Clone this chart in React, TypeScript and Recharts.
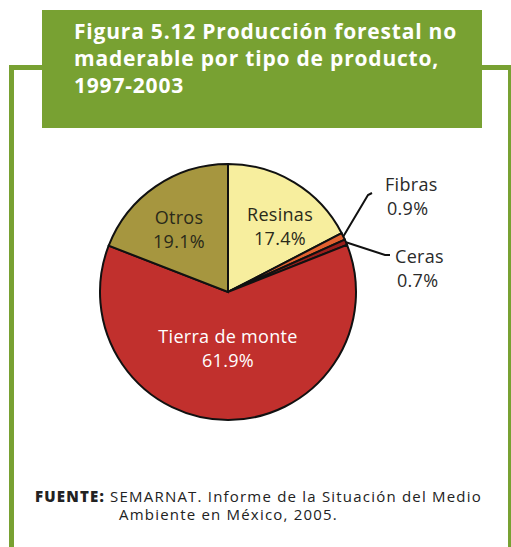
import React from 'react';
import { PieChart, Pie, Cell } from 'recharts';

const categories = ['Resinas', 'Fibras', 'Ceras', 'Tierra de monte', 'Otros'];
const shares = [17.4, 0.9, 0.7, 61.9, 19.1];
const shareLabels = ['17.4%', '0.9%', '0.7%', '61.9%', '19.1%'];
const titleLines = ['Figura 5.12 Producción forestal no', 'maderable por tipo de producto,', '1997-2003'];

const SLICE_COLORS = ['#f7ee9e', '#e2612f', '#9b1f1c', '#c1302d', '#a6963f'];
const GREEN = '#78a132';
const FONT = '"Open Sans", Lato, sans-serif';

const data = categories.map((name, i) => ({ name, value: shares[i], label: shareLabels[i] }));

// inside labels: offset of the label block from the pie centre
const INSIDE: Record<string, { dx: number; dy: number; color: string }> = {
  Resinas: { dx: 52, dy: -66, color: '#2a2a1a' },
  Otros: { dx: -49, dy: -63, color: '#2a2a1a' },
  'Tierra de monte': { dx: 0, dy: 56, color: '#ffffff' },
};
// outside labels: leader line elbow/end and text anchor, relative to centre
const OUTSIDE: Record<string, { elbow: [number, number]; end: [number, number]; text: [number, number] }> = {
  Fibras: { elbow: [140, -97], end: [144, -99], text: [157, -101] },
  Ceras: { elbow: [157, -37], end: [162, -37], text: [167, -29] },
};

const RAD = Math.PI / 180;

function SliceLabel(props: any) {
  const { cx, cy, midAngle, outerRadius, payload } = props;
  const name = payload.name as string;
  const pct = payload.label as string;
  const inside = INSIDE[name];
  if (inside) {
    const x = cx + inside.dx;
    const y = cy + inside.dy;
    return (
      <text x={x} y={y} textAnchor="middle" fill={inside.color} fontFamily={FONT} fontSize={18} letterSpacing={0.3}>
        <tspan x={x} dy={-5}>{name}</tspan>
        <tspan x={x} dy={24}>{pct}</tspan>
      </text>
    );
  }
  const out = OUTSIDE[name];
  if (!out) return null;
  const sx = cx + outerRadius * Math.cos(-midAngle * RAD);
  const sy = cy + outerRadius * Math.sin(-midAngle * RAD);
  const tx = cx + out.text[0];
  const ty = cy + out.text[1];
  return (
    <g>
      <polyline
        points={`${sx},${sy} ${cx + out.elbow[0]},${cy + out.elbow[1]} ${cx + out.end[0]},${cy + out.end[1]}`}
        fill="none"
        stroke="#111"
        strokeWidth={2}
      />
      <text x={tx} y={ty} textAnchor="start" fill="#2a2a2a" fontFamily={FONT} fontSize={18} letterSpacing={0.3}>
        <tspan x={tx}>{name}</tspan>
        <tspan x={tx + 2} dy={24}>{pct}</tspan>
      </text>
    </g>
  );
}

export default function App() {
  return (
    <div style={{ position: 'absolute', left: 0, top: 0, width: 511, height: 547, background: '#fff', overflow: 'hidden' }}>
      {/* frame */}
      <div style={{ position: 'absolute', left: 9, top: 65, width: 494, height: 490, border: `5px solid ${GREEN}`, borderBottom: 'none' }} />
      <div
        style={{
          position: 'absolute',
          left: 42,
          top: 10,
          width: 440,
          height: 118,
          background: GREEN,
        }}
      />
      <div
        style={{
          position: 'absolute',
          left: 74,
          top: 18,
          color: '#fff',
          fontFamily: FONT,
          fontWeight: 700,
          fontSize: 21,
          letterSpacing: 0.8,
          lineHeight: '27px',
          whiteSpace: 'nowrap',
        }}
      >
        {titleLines.map((t) => (
          <div key={t}>{t}</div>
        ))}
      </div>

      <div style={{ position: 'absolute', left: 0, top: 0 }}>
        <PieChart width={511} height={547}>
          <Pie
            data={data}
            dataKey="value"
            nameKey="name"
            cx={223}
            cy={287}
            outerRadius={128}
            startAngle={90}
            endAngle={-270}
            stroke="#111"
            strokeWidth={2}
            label={SliceLabel}
            labelLine={false}
            isAnimationActive={false}
          >
            {data.map((d, i) => (
              <Cell key={d.name} fill={SLICE_COLORS[i]} />
            ))}
          </Pie>
        </PieChart>
      </div>

      <div
        style={{
          position: 'absolute',
          left: 35,
          top: 487,
          fontFamily: FONT,
          fontSize: 15,
          letterSpacing: 1.2,
          lineHeight: '18px',
          color: '#222',
          whiteSpace: 'nowrap',
        }}
      >
        <div>
          <span style={{ fontWeight: 800 }}>FUENTE:</span> SEMARNAT. Informe de la Situación del Medio
        </div>
        <div style={{ paddingLeft: 84 }}>Ambiente en México, 2005.</div>
      </div>
    </div>
  );
}
